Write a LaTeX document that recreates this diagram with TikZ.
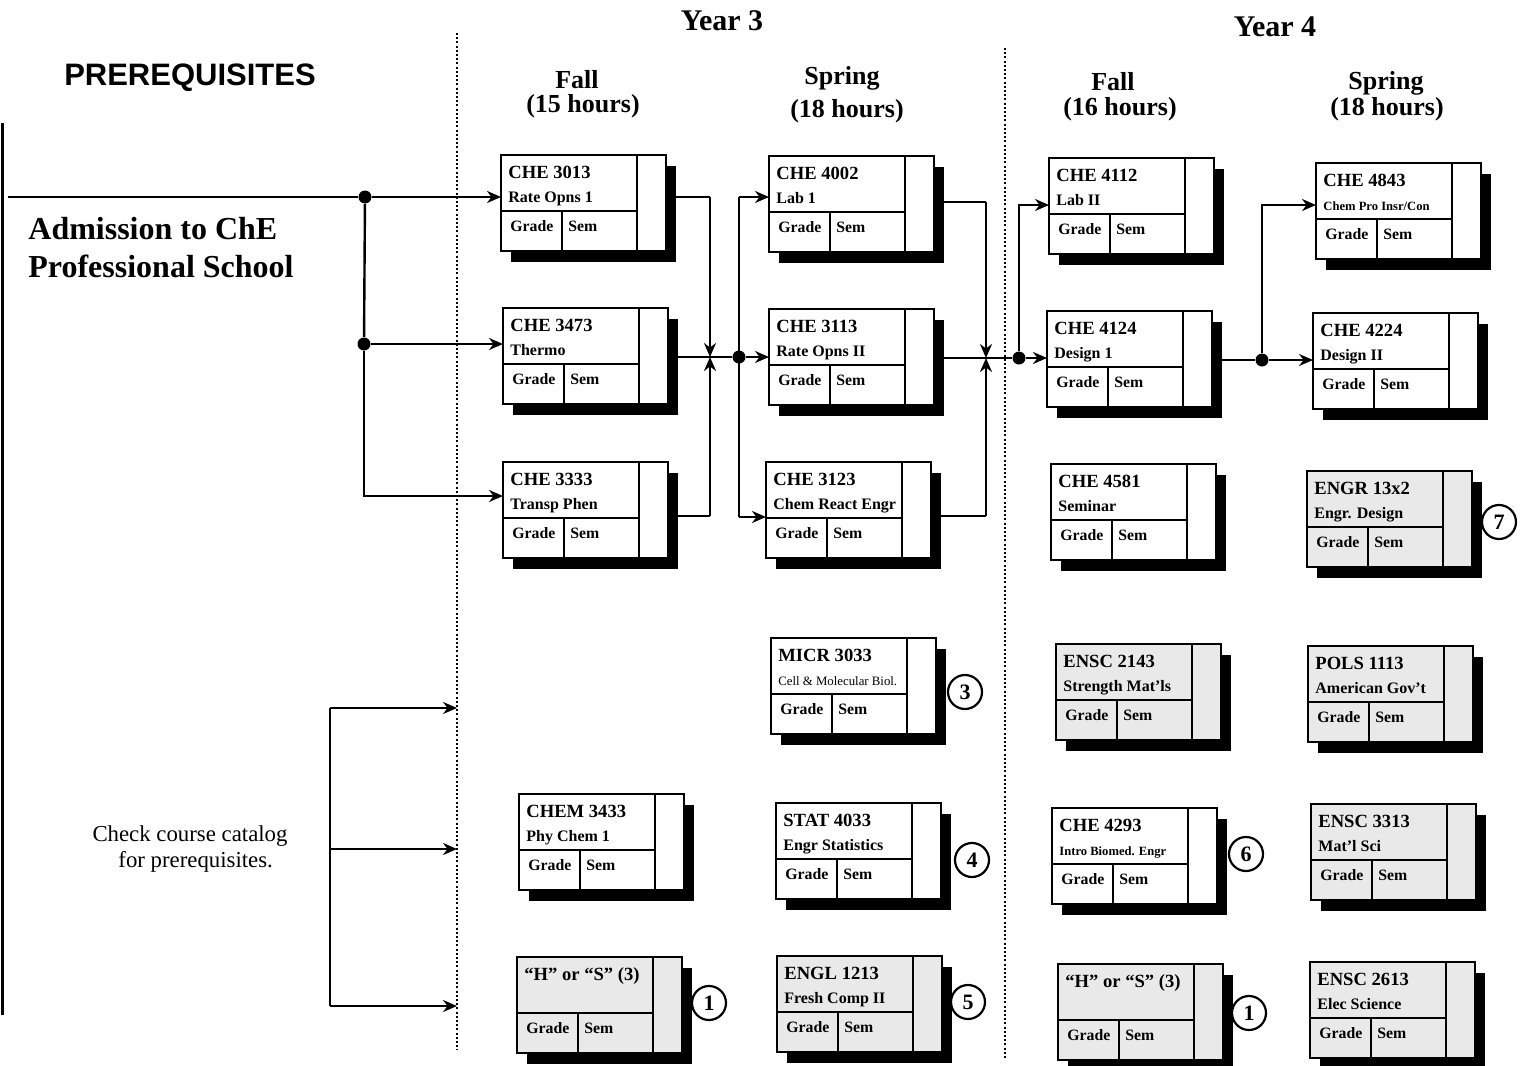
\documentclass[tikz,border=0pt]{standalone}
\usepackage{fontspec}
\setmainfont{Liberation Serif}
\newfontfamily\headfont{Liberation Sans}
\usetikzlibrary{calc,arrows.meta}

\definecolor{boxgrey}{HTML}{E9E9E9}

\tikzset{
  coursebox/.style={draw, rectangle, line width=1.4pt, minimum width=82.5pt,
    minimum height=48pt, inner sep=0pt, outer sep=0pt, anchor=north west},
  cellline/.style={line width=1.3pt},
  codetext/.style={anchor=base west, inner sep=0pt, font=\fontsize{9.3}{11}\selectfont\bfseries},
  subtext/.style={anchor=base west, inner sep=0pt, font=\fontsize{8}{10}\selectfont\bfseries},
  smallsub/.style={anchor=base west, inner sep=0pt, font=\fontsize{6.3}{8}\selectfont\bfseries},
  plainsub/.style={anchor=base west, inner sep=0pt, font=\fontsize{6.4}{8}\selectfont},
  celltext/.style={anchor=base west, inner sep=0pt, font=\fontsize{7.9}{10}\selectfont\bfseries},
  yearhead/.style={anchor=base, inner sep=0pt, font=\fontsize{15}{18}\selectfont\bfseries},
  termhead/.style={anchor=base, inner sep=0pt, font=\fontsize{13}{15}\selectfont\bfseries},
  dot/.style={circle, fill, inner sep=0pt, minimum size=6.5pt},
  numcircle/.style={circle, draw, line width=1.1pt, minimum size=17pt, inner sep=0pt,
    font=\fontsize{11}{12}\selectfont\bfseries},
  link/.style={line width=1.2pt},
  divider/.style={line width=1.2pt, dash pattern=on 1pt off 1.1pt}
}

% course box: name, top left, fill, number, title, title style
\newcommand{\course}[6]{%
  \fill ($(#2)+(10,11)$) rectangle ++(165,96);
  \node[coursebox, fill=#3] (#1) at (#2) {};
  \draw[cellline] ($(#1.north west)+(0,56)$) -- ++(136,0)
    ($(#1.north west)+(61,56)$) -- ++(0,40)
    ($(#1.north west)+(136,0)$) -- ++(0,96);
  \node[codetext] (#1-no) at ($(#1.north west)+(7,23)$) {#4};
  \node[#6] (#1-title) at ($(#1.north west)+(7,47)$) {#5};
  \node[celltext] (#1-grade) at ($(#1.north west)+(9,76)$) {Grade};
  \node[celltext] (#1-sem) at ($(#1.north west)+(67,76)$) {Sem};
}

\begin{document}
\begin{tikzpicture}[x=0.5pt, y=-0.5pt, >={Stealth[length=7pt,width=6pt]}]
  \useasboundingbox (0,0) rectangle (1523,1066);

  % headings
  \node[yearhead] (year3) at (722,30) {Year 3};
  \node[yearhead] (year4) at (1275,36) {Year 4};
  \node[termhead] (fall3) at (577,88) {Fall};
  \node[termhead] (fall3h) at (583,112) {(15 hours)};
  \node[termhead] (spring3) at (842,84) {Spring};
  \node[termhead] (spring3h) at (847,117) {(18 hours)};
  \node[termhead] (fall4) at (1113,90) {Fall};
  \node[termhead] (fall4h) at (1120,115) {(16 hours)};
  \node[termhead] (spring4) at (1386,89) {Spring};
  \node[termhead] (spring4h) at (1387,115) {(18 hours)};
  \node[anchor=base, inner sep=0pt, font=\headfont\fontsize{15.5}{18}\selectfont\bfseries]
    (prereq) at (190,85) {PREREQUISITES};
  \node[anchor=north west, inner sep=0pt, align=left, font=\fontsize{16}{19}\selectfont\bfseries]
    (admit) at (28,217) {Admission to ChE\\Professional School};
  \node[align=center, inner sep=0pt, font=\fontsize{11.4}{13}\selectfont]
    (note) at (190,849) {Check course catalog\\ \ \ for prerequisites.};

  % semester dividers
  \coordinate (div3top) at (457,33);
  \coordinate (div3bot) at (457,1050);
  \coordinate (div4top) at (1005,48);
  \coordinate (div4bot) at (1005,1060);
  \draw[divider] (div3top) -- (div3bot);
  \draw[divider] (div4top) -- (div4bot);
  \draw[line width=1.5pt] (2,123) -- (2,1015);

  % year 3 fall
  \course{che3013}{501,155}{white}{CHE 3013}{Rate Opns 1}{subtext}
  \course{che3473}{503,308}{white}{CHE 3473}{Thermo}{subtext}
  \course{che3333}{503,462}{white}{CHE 3333}{Transp Phen}{subtext}
  \course{chem3433}{519,794}{white}{CHEM 3433}{Phy Chem 1}{subtext}
  \course{hsa}{517,957}{boxgrey}{“H” or “S” (3)}{}{subtext}
  % year 3 spring
  \course{che4002}{769,156}{white}{CHE 4002}{Lab 1}{subtext}
  \course{che3113}{769,309}{white}{CHE 3113}{Rate Opns II}{subtext}
  \course{che3123}{766,462}{white}{CHE 3123}{Chem React Engr}{subtext}
  \course{micr3033}{771,638}{white}{MICR 3033}{Cell \& Molecular Biol.}{plainsub}
  \course{stat4033}{776,803}{white}{STAT 4033}{Engr Statistics}{subtext}
  \course{engl1213}{777,956}{boxgrey}{ENGL 1213}{Fresh Comp II}{subtext}
  % year 4 fall
  \course{che4112}{1049,158}{white}{CHE 4112}{Lab II}{subtext}
  \course{che4124}{1047,311}{white}{CHE 4124}{Design 1}{subtext}
  \course{che4581}{1051,464}{white}{CHE 4581}{Seminar}{subtext}
  \course{ensc2143}{1056,644}{boxgrey}{ENSC 2143}{Strength Mat’ls}{subtext}
  \course{che4293}{1052,808}{white}{CHE 4293}{Intro Biomed. Engr}{smallsub}
  \course{hsb}{1058,964}{boxgrey}{“H” or “S” (3)}{}{subtext}
  % year 4 spring
  \course{che4843}{1316,163}{white}{CHE 4843}{Chem Pro Insr/Con}{smallsub}
  \course{che4224}{1313,313}{white}{CHE 4224}{Design II}{subtext}
  \course{engr13x2}{1307,471}{boxgrey}{ENGR 13x2}{Engr. Design}{subtext}
  \course{pols1113}{1308,646}{boxgrey}{POLS 1113}{American Gov’t}{subtext}
  \course{ensc3313}{1311,804}{boxgrey}{ENSC 3313}{Mat’l Sci}{subtext}
  \course{ensc2613}{1310,962}{boxgrey}{ENSC 2613}{Elec Science}{subtext}

  % footnote marks
  \node[numcircle] (mark1a) at (709,1003) {1};
  \node[numcircle] (mark3) at (965,692) {3};
  \node[numcircle] (mark4) at (972,860) {4};
  \node[numcircle] (mark5) at (968,1002) {5};
  \node[numcircle] (mark6) at (1246,854) {6};
  \node[numcircle] (mark1b) at (1249,1013) {1};
  \node[numcircle] (mark7) at (1499,522) {7};

  % admission to year 3 fall
  \coordinate (start) at (8,197);
  \node[dot] (j1) at (365,197) {};
  \node[dot] (j2) at (364,344) {};
  \coordinate (j3) at (364,496);
  \draw[link] (start) -- (j1);
  \draw[link,->] (j1) -- (j1 -| che3013.west);
  \draw[link] (j1) -- (j2);
  \draw[link,->] (j2) -- (j2 -| che3473.west);
  \draw[link,->] (j2) -- (j3) -- (j3 -| che3333.west);

  % year 3 fall to spring
  \coordinate (m1) at (710,357);
  \coordinate (a1) at (710,197);
  \coordinate (a4) at (710,516);
  \node[dot] (j4) at (739,357) {};
  \coordinate (b1) at (739,197);
  \coordinate (b3) at (739,517);
  \draw[link] (che3013.east |- a1) -- (a1);
  \draw[link,->] (a1) -- (m1);
  \draw[link] (che3333.east |- a4) -- (a4);
  \draw[link,->] (a4) -- (m1);
  \draw[link] (che3473.east |- m1) -- (j4);
  \draw[link] (b1) -- (b3);
  \draw[link,->] (b1) -- (b1 -| che4002.west);
  \draw[link,->] (j4) -- (j4 -| che3113.west);
  \draw[link,->] (b3) -- (b3 -| che3123.west);

  % year 3 spring to year 4 fall
  \coordinate (m2) at (986,358);
  \coordinate (a2) at (986,202);
  \coordinate (a3) at (986,516);
  \node[dot] (j5) at (1019,358) {};
  \coordinate (b4) at (1019,205);
  \draw[link] (che4002.east |- a2) -- (a2);
  \draw[link,->] (a2) -- (m2);
  \draw[link] (che3123.east |- a3) -- (a3);
  \draw[link,->] (a3) -- (m2);
  \draw[link] (che3113.east |- j5) -- (j5);
  \draw[link,->] (j5) -- (j5 -| che4124.west);
  \draw[link,->] (j5) -- (b4) -- (b4 -| che4112.west);

  % year 4 fall to spring
  \node[dot] (j6) at (1262,360) {};
  \coordinate (b5) at (1262,205);
  \draw[link] (che4124.east |- j6) -- (j6);
  \draw[link,->] (j6) -- (j6 -| che4224.west);
  \draw[link,->] (j6) -- (b5) -- (b5 -| che4843.west);

  % other prerequisites
  \coordinate (p1) at (330,708);
  \coordinate (p2) at (330,849);
  \coordinate (p3) at (330,1006);
  \draw[link] (p1) -- (p3);
  \draw[link,->] (p1) -- (p1 -| div3top);
  \draw[link,->] (p2) -- (p2 -| div3top);
  \draw[link,->] (p3) -- (p3 -| div3top);
\end{tikzpicture}
\end{document}
